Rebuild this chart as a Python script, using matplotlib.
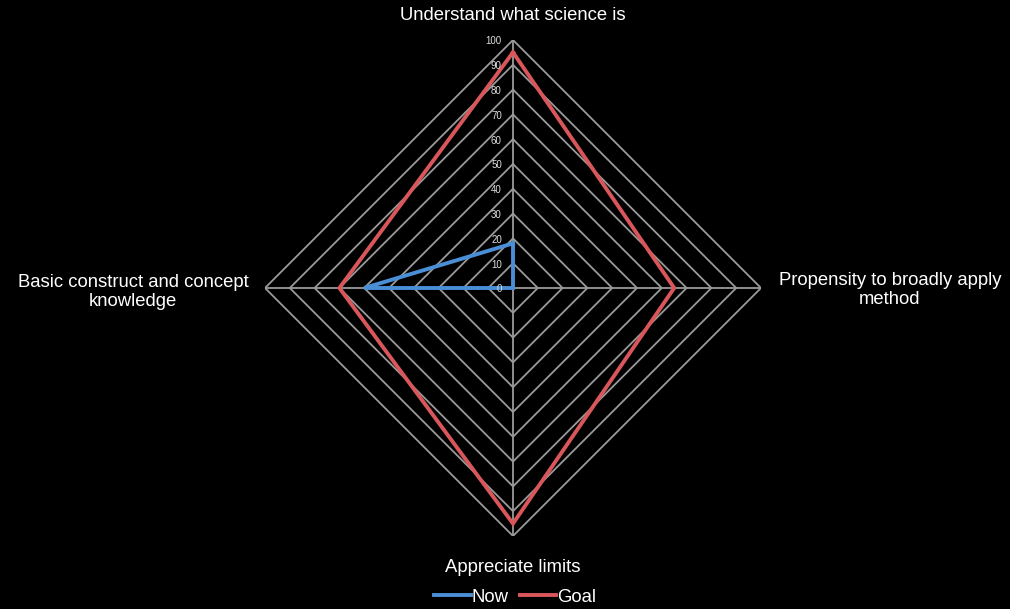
import numpy as np
import matplotlib.pyplot as plt

# axis categories, clockwise from the top
categories = ["Understand what science is",
              "Propensity to broadly apply\nmethod",
              "Appreciate limits",
              "Basic construct and concept\nknowledge"]
now_values = [18, 0, 0, 60]
goal_values = [95, 65, 95, 70]
ring_levels = [10, 20, 30, 40, 50, 60, 70, 80, 90, 100]
tick_labels = ["0", "10", "20", "30", "40", "50", "60", "70", "80", "90", "100"]

plt.rcParams['font.family'] = ['Liberation Sans', 'DejaVu Sans']

W, H = 1010, 609
cx, cy, rad = 513, 288, 248

fig = plt.figure(figsize=(W / 100, H / 100), dpi=100, facecolor='black')
ax = fig.add_axes([(cx - rad) / W, (H - cy - rad) / H, 2 * rad / W, 2 * rad / H])
ax.set_facecolor('black')
ax.set_xlim(-100, 100)
ax.set_ylim(-100, 100)
ax.axis('off')

# angle of each axis: top, right, bottom, left
angles = np.pi / 2 - np.arange(len(categories)) * 2 * np.pi / len(categories)


def to_xy(vals):
    vals = np.asarray(vals, dtype=float)
    x = vals * np.cos(angles)
    y = vals * np.sin(angles)
    return np.append(x, x[0]), np.append(y, y[0])


grid_col = '#9a9a9a'
for lev in ring_levels:
    gx, gy = to_xy([lev] * len(categories))
    ax.plot(gx, gy, color=grid_col, lw=1.3, zorder=1)
for a in angles:
    ax.plot([0, 100 * np.cos(a)], [0, 100 * np.sin(a)], color=grid_col, lw=1.3, zorder=1)

# tick labels on the top spoke
for i, t in enumerate(tick_labels):
    ax.text(-4.5, i * 10 - 0.6, t, color='#e0e0e0', fontsize=7, ha='right', va='center',
            zorder=4)

nx, ny = to_xy(now_values)
ax.plot(nx, ny, color='#4a8fd6', lw=2.8, zorder=3, solid_joinstyle='miter', label='Now')
gx, gy = to_xy(goal_values)
ax.plot(gx, gy, color='#d9565a', lw=2.8, zorder=3, solid_joinstyle='miter', label='Goal')

# category labels
fs = 13.3
fig.text(cx / W, 1 - 16 / H, categories[0], color='white', fontsize=fs, ha='center', va='center')
fig.text(890 / W, 1 - 290 / H, categories[1], color='white', fontsize=fs, ha='center', va='center',
         linespacing=1.1)
fig.text(cx / W, 1 - 568 / H, categories[2], color='white', fontsize=fs, ha='center', va='center')
fig.text(133 / W, 1 - 292 / H, categories[3], color='white', fontsize=fs, ha='center', va='center',
         linespacing=1.1)

leg = fig.legend(loc='center', bbox_to_anchor=(515 / W, 1 - 597 / H), ncol=2, frameon=False,
                 fontsize=fs, handlelength=2.0, handletextpad=0.05, columnspacing=0.6,
                 borderpad=0)
for txt in leg.get_texts():
    txt.set_color('white')

fig.savefig('out.png', dpi=100, facecolor='black')
